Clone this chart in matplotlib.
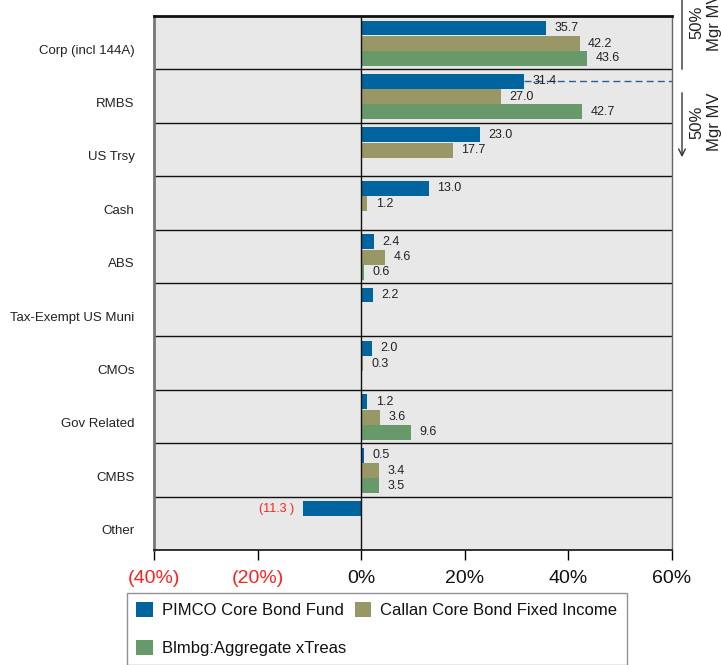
import numpy as np
import matplotlib.pyplot as plt

plt.rcParams['font.family'] = ['Liberation Sans', 'DejaVu Sans']

categories = ['Corp (incl 144A)', 'RMBS', 'US Trsy', 'Cash', 'ABS',
              'Tax-Exempt US Muni', 'CMOs', 'Gov Related', 'CMBS', 'Other']
pimco = [35.7, 31.4, 23.0, 13.0, 2.4, 2.2, 2.0, 1.2, 0.5, -11.3]
callan = [42.2, 27.0, 17.7, 1.2, 4.6, np.nan, 0.3, 3.6, 3.4, np.nan]
blmbg = [43.6, 42.7, np.nan, np.nan, 0.6, np.nan, np.nan, 9.6, 3.5, np.nan]
series_names = ['PIMCO Core Bond Fund', 'Callan Core Bond Fixed Income',
                'Blmbg:Aggregate xTreas']
colors = ['#00649e', '#9a9766', '#67996a']
xticks = [-40, -20, 0, 20, 40, 60]
xticklabels = ['(40%)', '(20%)', '0%', '20%', '40%', '60%']

fig = plt.figure(figsize=(7.21, 6.65), dpi=100)
ax = fig.add_axes([154 / 721, 1 - 550 / 665, 518 / 721, 534 / 665])
ax.set_facecolor('#e8e8e8')

n = len(categories)
rows = np.arange(n)
offsets = [0.225, 0.515, 0.795]
bar_h = 0.28

handles = []
for k, (vals, col) in enumerate(zip([pimco, callan, blmbg], colors)):
    vals = np.array(vals, dtype=float)
    ok = ~np.isnan(vals)
    b = ax.barh(rows[ok] + offsets[k], vals[ok], height=bar_h, color=col,
                edgecolor='none', label=series_names[k])
    handles.append(b)
    for r, v in zip(rows[ok], vals[ok]):
        if v >= 0:
            ax.text(v + 1.6, r + offsets[k], f'{v:.1f}', va='center', ha='left',
                    fontsize=9, color='#222222')
        else:
            ax.text(v - 1.6, r + offsets[k], f'({abs(v):.1f} )', va='center',
                    ha='right', fontsize=9, color='#ff2020')

# dashed reference line in RMBS row
ax.plot([pimco[1], 60], [1 + offsets[0]] * 2, ls=(0, (5, 3)), color='#2a5f95', lw=1)

for y in range(1, n):
    ax.axhline(y, color='#111111', lw=1)
ax.axvline(0, color='#111111', lw=1)

ax.set_xlim(-40, 60)
ax.set_ylim(n, 0)
ax.set_xticks(xticks)
ax.set_xticklabels(xticklabels, fontsize=14)
for lbl, v in zip(ax.get_xticklabels(), xticks):
    lbl.set_color('#ff2020' if v < 0 else '#111111')
ax.tick_params(axis='x', direction='out', length=7.5, width=1, pad=7)
ax.set_yticks(rows + 0.62)
ax.set_yticklabels(categories, fontsize=9.5, color='#222222')
ax.tick_params(axis='y', length=0, pad=14)

ax.spines['top'].set_linewidth(2)
ax.spines['top'].set_color('#111111')
ax.spines['left'].set_linewidth(2)
ax.spines['left'].set_color('#777777')
ax.spines['right'].set_linewidth(1)
ax.spines['right'].set_color('#666666')
ax.spines['bottom'].set_linewidth(1.2)
ax.spines['bottom'].set_color('#111111')

# right-side annotations
def fx(px):
    return px / 721

def fy(py):
    return 1 - py / 665

fig.add_artist(plt.matplotlib.patches.FancyArrowPatch(
    (fx(682), fy(72)), (fx(682), fy(-12)), transform=fig.transFigure,
    arrowstyle='->', mutation_scale=12, color='#333333', lw=1))
fig.add_artist(plt.matplotlib.patches.FancyArrowPatch(
    (fx(682), fy(90)), (fx(682), fy(160)), transform=fig.transFigure,
    arrowstyle='->', mutation_scale=12, color='#333333', lw=1))
fig.text(fx(706), fy(22), '50%\nMgr MV', rotation=90, ha='center', va='center',
         fontsize=12, color='#222222')
fig.text(fx(706), fy(122), '50%\nMgr MV', rotation=90, ha='center', va='center',
         fontsize=12, color='#222222')

# column-major fill: PIMCO & Blmbg in column 1, Callan in column 2
leg = fig.legend(handles=[handles[0], handles[2], handles[1]], loc='upper left',
                 bbox_to_anchor=(fx(127), fy(593)), ncol=2, fontsize=12,
                 frameon=True, fancybox=False, edgecolor='#777777',
                 handlelength=1.0, handleheight=1.0, handletextpad=0.55,
                 columnspacing=0.5, labelspacing=1.3, borderpad=0.55,
                 borderaxespad=0)
leg.get_frame().set_linewidth(1)
for t in leg.get_texts():
    t.set_color('#111111')

fig.savefig('out.png', dpi=100)
